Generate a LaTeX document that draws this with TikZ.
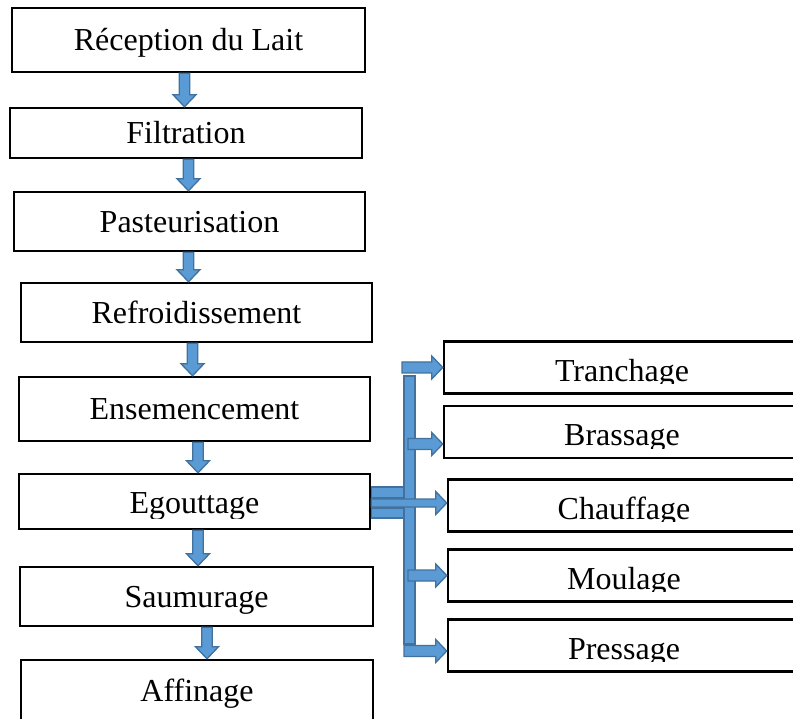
\documentclass[tikz,border=0pt]{standalone}
\usepackage{fontspec}
\setmainfont{Liberation Serif}
\usepackage{tikz}
\usetikzlibrary{calc}

\definecolor{flowblue}{HTML}{5B9BD5}
\definecolor{flowedge}{HTML}{41719C}

\tikzset{
  stepbox/.style={draw, line width=2.5pt, inner sep=0pt, minimum width=351pt,
    minimum height=59pt, font=\fontsize{32}{37}\selectfont, text height=21.5pt, text depth=0pt},
  steptext/.style={inner sep=0pt, font=\fontsize{32}{37}\selectfont, text height=21.5pt, text depth=0pt},
  sidebox/.style={draw, line width=2.5pt, inner sep=0pt, minimum height=52pt},
  blk/.style={fill=flowblue, draw=flowedge, line width=1.3pt},
}

% block arrow down, from node #1 to node #2, shifted by #3
\newcommand{\flowdown}[3]{%
  \path[blk] let \p1=([xshift=#3]#1.south), \p2=(#2.north) in
    (\x1-5.25pt,\y1) -- (\x1-5.25pt,\y2+12pt) -- (\x1-11.5pt,\y2+12pt) -- (\x1,\y2)
    -- (\x1+11.5pt,\y2+12pt) -- (\x1+5.25pt,\y2+12pt) -- (\x1+5.25pt,\y1) -- cycle;}

% block arrow right, x from #2, y from #3, tip on node #4
\newcommand{\flowright}[4][5.5pt]{%
  \path[blk] let \p1=#2, \p2=#3, \p3=(#4.west) in
    (\x1,\y2+#1) -- (\x3-11pt,\y2+#1) -- (\x3-11pt,\y2+11.5pt) -- (\x3,\y2)
    -- (\x3-11pt,\y2-11.5pt) -- (\x3-11pt,\y2-#1) -- (\x1,\y2-#1) -- cycle;}

\begin{document}
\begin{tikzpicture}[x=1pt, y=-1pt]
\useasboundingbox (0,0) rectangle (793,719);

% main line
\node[stepbox, minimum width=353pt, minimum height=64pt] (rec) at (188.5,40) {Réception du Lait};
\node[stepbox, minimum width=352pt, minimum height=50pt] (fil) at (186,133) {Filtration};
\node[stepbox] (pas) at (189.5,221.5) {Pasteurisation};
\node[stepbox] (ref) at (196.5,312.5) {Refroidissement};
\node[stepbox, minimum height=64pt] (ens) at (194.5,409) {Ensemencement};
\node[stepbox, minimum height=55pt] (ego) at (194.5,501.5) {};
\begin{scope}
  \clip ([yshift=12pt]ego.south west) rectangle (ego.north east);
  \node[steptext] (ego-t) at ([yshift=-1.5pt]ego.center) {Egouttage};
\end{scope}
\node[stepbox, minimum width=353pt] (sau) at (196.5,596.5) {Saumurage};
\node[stepbox, minimum width=352pt, minimum height=62pt] (aff) at (197,691) {Affinage};

\flowdown{rec}{fil}{-4pt}
\flowdown{fil}{pas}{2.5pt}
\flowdown{pas}{ref}{-1pt}
\flowdown{ref}{ens}{-4pt}
\flowdown{ens}{ego}{3.5pt}
\flowdown{ego}{sau}{3.5pt}
\flowdown{sau}{aff}{10.5pt}

% steps of Egouttage
\foreach \n/\t/\x/\y/\w in {tr/Tranchage/622/367.5/356, br/Brassage/622/432/356,
    ch/Chauffage/624/505.5/352, mo/Moulage/624/575.5/352, pr/Pressage/624/645.5/352}{
  \node[sidebox, minimum width=\w pt] (\n) at (\x,\y) {};
  \begin{scope}
    \clip ([yshift=11pt]\n.south west) rectangle (\n.north east);
    \node[steptext] (\n-t) at ([yshift=-3pt]\n.center) {\t};
  \end{scope}
}

\coordinate (bartop) at (409.5,376);
\coordinate (barbot) at (409.5,644);

\path[blk] let \p1=(ego.east), \p2=(bartop) in
  (\x1,\y1+14.5pt) rectangle (\x2,\y1+3.5pt)
  (\x1,\y1-6.5pt) rectangle (\x2,\y1-16.5pt);
\path[blk] ([xshift=-5.5pt]bartop) rectangle ([xshift=5.5pt]barbot);

\flowright{([xshift=-7.5pt]bartop)}{(tr.west)}{tr}
\flowright{([xshift=-1.5pt]bartop)}{([yshift=-12pt]br.west)}{br}
\flowright[4pt]{(ego.east)}{([yshift=-1.5pt]ego.east)}{ch}
\flowright{([xshift=-1.5pt]bartop)}{(mo.west)}{mo}
\flowright{([xshift=-5.5pt]barbot)}{([yshift=-5.5pt]pr.west)}{pr}

\end{tikzpicture}
\end{document}
